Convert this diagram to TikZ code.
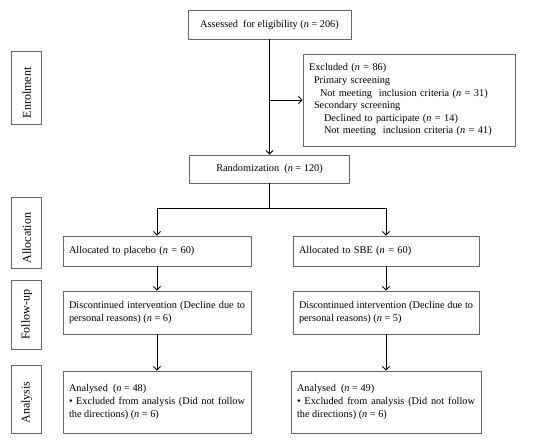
\documentclass[tikz,border=0pt]{standalone}
\usepackage{fontspec}
\setmainfont{Liberation Serif}
\usetikzlibrary{arrows.meta}
\begin{document}
\begin{tikzpicture}[x=1pt,y=-1pt,
  box/.style={draw=black!60, line width=0.8pt, rectangle, inner sep=0pt,
    font=\fontsize{10.3}{12.6}\selectfont, text=black},
  lbox/.style={draw=black!60, line width=0.8pt, rectangle, inner ysep=0pt, inner xsep=1pt,
    rotate=90, minimum height=30pt, align=left, font=\fontsize{12}{14}\selectfont},
  arr/.style={line width=0.9pt, -{Straight Barb[length=3.5pt,width=7pt]}},
  ln/.style={line width=0.9pt}]
\useasboundingbox (0,0) rectangle (550,441);
\fill[white] (0,0) rectangle (550,441);

% stage labels
\node[lbox, text width=70.6pt] (lenr) at (26.7,88) {\hspace*{5pt}Enrolment};
\node[lbox, text width=69pt] (lall) at (26.7,232.5) {\hspace*{3.5pt}Allocation};
\node[lbox, text width=67pt] (lfol) at (26.7,314.5) {\hspace*{8pt}Follow-up};
\node[lbox, text width=66.3pt] (lana) at (26.7,399.2) {\hspace*{9pt}Analysis};

% main boxes
\node[box, minimum width=163pt, minimum height=29pt] (assess) at (269.5,24.5)
  {Assessed\ \ for eligibility (\textit{n} = 206)};
\node[box, minimum height=92pt, text width=200pt, inner xsep=6pt, align=left] (excl) at (409,100)
  {Excluded (\textit{n} = 86)\\
   \hspace*{5pt}Primary screening\\
   \hspace*{11pt}Not meeting\ \ inclusion criteria (\textit{n} = 31)\\
   \hspace*{5pt}Secondary screening\\
   \hspace*{15pt}Declined to participate (\textit{n} = 14)\\
   \hspace*{15pt}Not meeting\ \ inclusion criteria (\textit{n} = 41)};
\node[box, minimum width=160pt, minimum height=28pt] (rand) at (269.5,169)
  {Randomization\ \ (\textit{n} = 120)};

\node[box, minimum height=30pt, text width=176pt, inner xsep=6pt, align=left] (al1) at (157,251)
  {Allocated to placebo (\textit{n} = 60)};
\node[box, minimum height=30pt, text width=174pt, inner xsep=6pt, align=left] (al2) at (386,251)
  {Allocated to SBE (\textit{n} = 60)};

\node[box, minimum height=43pt, text width=176pt, inner xsep=6pt, align=justify] (fu1) at (157,312.5)
  {Discontinued intervention (Decline due to personal reasons) (\textit{n} = 6)};
\node[box, minimum height=43pt, text width=174pt, inner xsep=6pt, align=justify] (fu2) at (386,312.5)
  {Discontinued intervention (Decline due to personal reasons) (\textit{n} = 5)};

\node[box, minimum height=62pt, text width=176pt, inner xsep=6pt, align=justify] (an1) at (157,402)
  {Analysed\ \ (\textit{n} = 48)\\ \textbullet{} Excluded from analysis (Did not follow the directions) (\textit{n} = 6)};
\node[box, minimum height=62pt, text width=178pt, inner xsep=6pt, align=justify] (an2) at (386,402)
  {Analysed\ \ (\textit{n} = 49)\\ \textbullet{} Excluded from analysis (Did not follow the directions) (\textit{n} = 6)};

% connectors
\coordinate (branch) at (269.5,208);
\draw[arr] (assess.south) -- (rand.north);
\draw[arr] (assess.south |- excl.west) -- (excl.west);
\draw[ln] (rand.south) -- (branch);
\draw[arr] (branch) -| (al1.north);
\draw[arr] (branch) -| (al2.north);
\draw[arr] (al1.south) -- (fu1.north);
\draw[arr] (al2.south) -- (fu2.north);
\draw[arr] (fu1.south) -- (an1.north);
\draw[arr] (fu2.south) -- (an2.north);
\end{tikzpicture}
\end{document}
